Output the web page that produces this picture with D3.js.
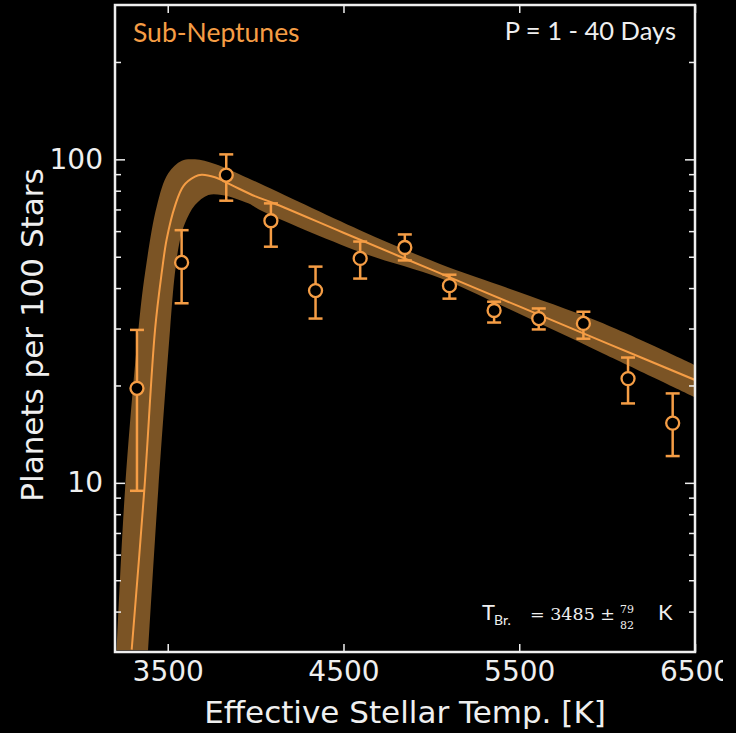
<!DOCTYPE html>
<html>
<head>
<meta charset="utf-8">
<script src="https://cdn.jsdelivr.net/npm/d3@7"></script>
<style>
  html, body { margin: 0; padding: 0; background: #000; }
  svg { display: block; }
</style>
</head>
<body>
<svg id="chart" width="736" height="733"></svg>
<script>
// Binned occurrence rates (planets per 100 stars) vs. effective temperature
const binTemp   = [3325, 3579, 3833, 4087, 4341, 4595, 4849, 5103, 5357, 5611, 5865, 6119, 6373];
const rate      = [19.6, 48.0, 89.4, 64.6, 39.3, 49.4, 53.4, 40.7, 34.1, 32.2, 31.1, 21.0, 15.3];
const rateHigh  = [29.7, 60.4, 103.6, 73.1, 46.6, 55.7, 58.6, 44.0, 36.3, 34.6, 33.8, 24.4, 18.9];
const rateLow   = [9.45, 35.9, 74.5, 53.7, 32.2, 42.8, 48.7, 37.1, 31.3, 29.8, 27.9, 17.6, 12.1];

// Broken power-law fit: median curve and confidence band edges
const fitTemp   = [3295, 3367, 3428, 3466, 3494, 3541, 3589, 3655, 3693, 3769, 3864, 4000, 4100, 4500, 5000, 5500, 6000, 6500];
const fitRate   = [3.05, 9.55, 29.8, 44.7, 56.6, 71.7, 82.7, 88.4, 89.6, 88.0, 83.2, 76.8, 73.3, 59.3, 45.6, 35.1, 27.0, 20.8];
const bandHiTemp = [3210, 3257, 3333, 3371, 3437, 3503, 3580, 3655, 3769, 3958, 4594, 5049, 5390, 5959, 6500];
const bandHiRate = [3.04, 9.5, 29.7, 44.5, 71.4, 90.5, 99.0, 100.0, 96.7, 87.4, 60.4, 47.5, 40.8, 31.4, 23.1];
const bandLoTemp = [3389, 3446, 3513, 3541, 3570, 3598, 3655, 3731, 3807, 3958, 4025, 4594, 5049, 5390, 5959, 6500];
const bandLoRate = [3.04, 9.5, 29.7, 44.5, 56.4, 63.4, 72.2, 77.6, 77.6, 73.1, 69.7, 51.7, 43.0, 35.5, 25.4, 18.4];

// Axis ticks
const xTicks = [3500, 4500, 5500, 6500];
const yMajor = [10, 100];
const yMinor = [4, 5, 6, 7, 8, 9, 20, 30, 40, 50, 60, 70, 80, 90, 200];

const ORANGE = "#f59d45";
const BAND = "#7b5425";
const WHITE = "#efefef";

const plotL = 115, plotR = 695, plotT = 5, plotB = 652;
const svg = d3.select("#chart");

svg.append("rect").attr("width", 736).attr("height", 733).attr("fill", "#000");

const x = d3.scaleLinear().domain([3200, 6500]).range([plotL, plotR]);
const y = d3.scaleLog().domain([3, 300]).range([plotB, plotT]);

const defs = svg.append("defs");
defs.append("clipPath").attr("id", "plotClip")
  .append("rect").attr("x", plotL).attr("y", plotT)
  .attr("width", plotR - plotL).attr("height", plotB - plotT);
defs.append("clipPath").attr("id", "pageClip")
  .append("rect").attr("x", 0).attr("y", -20).attr("width", 723).attr("height", 733);

const plot = svg.append("g").attr("clip-path", "url(#plotClip)");

// Confidence band: upper edge forward, lower edge back
const edge = d3.line().x(d => x(d[0])).y(d => y(d[1])).curve(d3.curveCatmullRom.alpha(0.5));
const hiPts = bandHiTemp.map((t, i) => [t, bandHiRate[i]]);
const loPts = bandLoTemp.map((t, i) => [t, bandLoRate[i]]).reverse();
const bandPath = edge(hiPts) + "L" + edge(loPts).slice(1) + "Z";
plot.append("path").attr("d", bandPath).attr("fill", BAND);

// Median fit curve
plot.append("path")
  .attr("d", edge(fitTemp.map((t, i) => [t, fitRate[i]])))
  .attr("fill", "none").attr("stroke", ORANGE).attr("stroke-width", 2);

// Error bars
const pts = binTemp.map((t, i) => ({ t, v: rate[i], hi: rateHigh[i], lo: rateLow[i] }));
const eb = plot.append("g").attr("stroke", ORANGE).attr("stroke-width", 2.5).attr("fill", "none");
pts.forEach(d => {
  eb.append("line").attr("x1", x(d.t)).attr("x2", x(d.t)).attr("y1", y(d.hi)).attr("y2", y(d.lo));
  eb.append("line").attr("x1", x(d.t) - 7).attr("x2", x(d.t) + 7).attr("y1", y(d.hi)).attr("y2", y(d.hi));
  eb.append("line").attr("x1", x(d.t) - 7).attr("x2", x(d.t) + 7).attr("y1", y(d.lo)).attr("y2", y(d.lo));
});
plot.append("g").selectAll("circle").data(pts).join("circle")
  .attr("cx", d => x(d.t)).attr("cy", d => y(d.v)).attr("r", 6.5)
  .attr("fill", "#000").attr("stroke", ORANGE).attr("stroke-width", 2.3);

// Axes (ticks pointing inward)
function styleAxis(g) {
  g.select(".domain").remove();
  g.selectAll(".tick line").attr("stroke", WHITE).attr("stroke-width", 1.5);
  g.selectAll(".tick text").attr("fill", WHITE)
    .attr("font-family", "DejaVu Sans").attr("font-size", 28);
}
svg.append("g").attr("transform", `translate(${plotL},0)`)
  .call(d3.axisLeft(y).tickValues(yMajor).tickFormat(d3.format("d")).tickSize(-10).tickPadding(12))
  .call(styleAxis);
svg.append("g").attr("transform", `translate(${plotL},0)`)
  .call(d3.axisLeft(y).tickValues(yMinor).tickFormat("").tickSize(-6))
  .call(styleAxis);
svg.append("g").attr("transform", `translate(${plotR},0)`)
  .call(d3.axisRight(y).tickValues(yMajor).tickFormat("").tickSize(-10))
  .call(styleAxis);
svg.append("g").attr("transform", `translate(${plotR},0)`)
  .call(d3.axisRight(y).tickValues(yMinor).tickFormat("").tickSize(-6))
  .call(styleAxis);
svg.append("g").attr("transform", `translate(0,${plotB})`).attr("clip-path", "url(#pageClip)")
  .call(d3.axisBottom(x).tickValues(xTicks).tickFormat(d3.format("d")).tickSize(-8).tickPadding(9))
  .call(styleAxis);
svg.append("g").attr("transform", `translate(0,${plotT})`)
  .call(d3.axisTop(x).tickValues(xTicks).tickFormat("").tickSize(-8))
  .call(styleAxis);

// Frame
svg.append("rect").attr("x", plotL).attr("y", plotT)
  .attr("width", plotR - plotL).attr("height", plotB - plotT)
  .attr("fill", "none").attr("stroke", WHITE).attr("stroke-width", 2.5);

// Axis titles
svg.append("text").attr("x", (plotL + plotR) / 2).attr("y", 723)
  .attr("text-anchor", "middle").attr("fill", WHITE)
  .attr("font-family", "DejaVu Sans").attr("font-size", 31)
  .text("Effective Stellar Temp. [K]");
svg.append("text").attr("transform", "translate(43,335) rotate(-90)")
  .attr("text-anchor", "middle").attr("fill", WHITE)
  .attr("font-family", "DejaVu Sans").attr("font-size", 31)
  .text("Planets per 100 Stars");

// Panel annotations
svg.append("text").attr("x", 133).attr("y", 42)
  .attr("fill", ORANGE).attr("font-family", "Lato").attr("font-size", 26.5)
  .text("Sub-Neptunes");
svg.append("text").attr("x", 676).attr("y", 40).attr("text-anchor", "end")
  .attr("fill", WHITE).attr("font-family", "Lato").attr("font-size", 25.5)
  .text("P = 1 - 40 Days");

// Break temperature with asymmetric uncertainty
const tb = svg.append("g").attr("fill", WHITE).attr("font-family", "Lato");
tb.append("text").attr("x", 482).attr("y", 620).attr("font-size", 22).text("T");
tb.append("text").attr("x", 494).attr("y", 625).attr("font-size", 14).text("Br.");
tb.append("text").attr("x", 530).attr("y", 620).attr("font-size", 17.5)
  .attr("font-family", "DejaVu Serif").text("= 3485 ±");
tb.append("text").attr("x", 620).attr("y", 613).attr("font-size", 11)
  .attr("font-family", "DejaVu Serif").text("79");
tb.append("text").attr("x", 620).attr("y", 629).attr("font-size", 11)
  .attr("font-family", "DejaVu Serif").text("82");
tb.append("text").attr("x", 658).attr("y", 620).attr("font-size", 22).text("K");
</script>
</body>
</html>
